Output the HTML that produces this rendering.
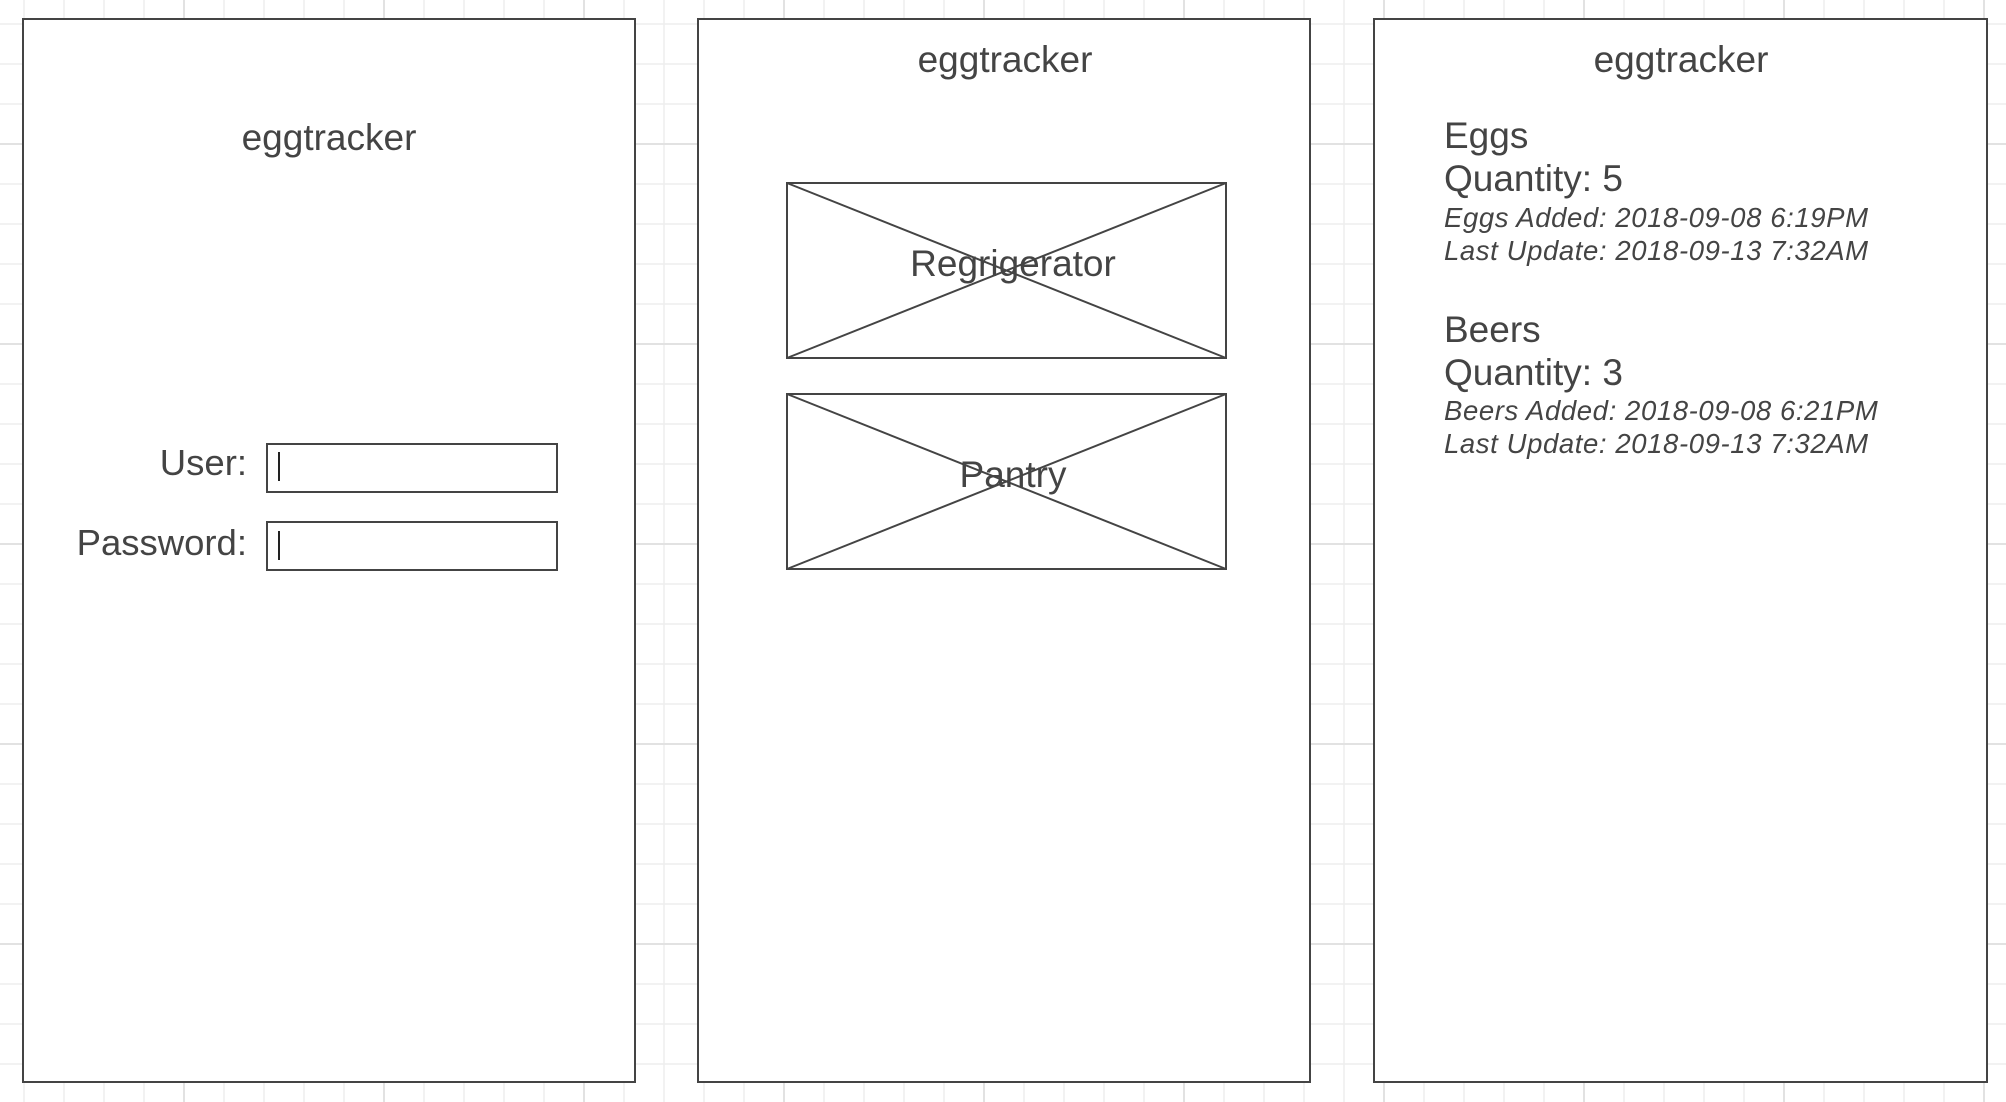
<!DOCTYPE html>
<html><head><meta charset="utf-8"><style>
html,body{margin:0;padding:0;background:#fff;}
svg{display:block;}
text{font-family:"Liberation Sans",sans-serif;fill:#444;}
</style></head><body>
<svg width="2006" height="1102" viewBox="0 0 2006 1102">
<g id="grid"></g>
<g>
<rect x="23" y="19" width="612" height="1063" fill="#fff" stroke="#444" stroke-width="2"/>
<text x="329" y="150" font-size="37" text-anchor="middle">eggtracker</text>
<text x="247" y="475" font-size="36.5" text-anchor="end">User:</text>
<rect x="267" y="444" width="290" height="48" fill="#fff" stroke="#444" stroke-width="2"/>
<line x1="279" y1="452" x2="279" y2="481" stroke="#222" stroke-width="2"/>
<text x="247" y="555" font-size="36.5" text-anchor="end">Password:</text>
<rect x="267" y="522" width="290" height="48" fill="#fff" stroke="#444" stroke-width="2"/>
<line x1="279" y1="531" x2="279" y2="560" stroke="#222" stroke-width="2"/>
</g>
<g>
<rect x="698" y="19" width="612" height="1063" fill="#fff" stroke="#444" stroke-width="2"/>
<text x="1005" y="72" font-size="37" text-anchor="middle">eggtracker</text>
<g>
<rect x="787" y="183" width="439" height="175" fill="#fff" stroke="#444" stroke-width="2"/>
<line x1="787" y1="183" x2="1226" y2="358" stroke="#444" stroke-width="2"/>
<line x1="787" y1="358" x2="1226" y2="183" stroke="#444" stroke-width="2"/>
<text x="1013" y="276" font-size="37" text-anchor="middle">Regrigerator</text>
</g>
<g>
<rect x="787" y="394" width="439" height="175" fill="#fff" stroke="#444" stroke-width="2"/>
<line x1="787" y1="394" x2="1226" y2="569" stroke="#444" stroke-width="2"/>
<line x1="787" y1="569" x2="1226" y2="394" stroke="#444" stroke-width="2"/>
<text x="1013" y="487" font-size="37" text-anchor="middle">Pantry</text>
</g>
</g>
<g>
<rect x="1374" y="19" width="613" height="1063" fill="#fff" stroke="#444" stroke-width="2"/>
<text x="1681" y="72" font-size="37" text-anchor="middle">eggtracker</text>
<g>
<text x="1444" y="148" font-size="37">Eggs</text>
<text x="1444" y="191" font-size="37">Quantity: 5</text>
<text x="1444" y="227" font-size="27.5" letter-spacing="0.6" font-style="italic">Eggs Added: 2018-09-08 6:19PM</text>
<text x="1444" y="260" font-size="27.5" letter-spacing="0.6" font-style="italic">Last Update: 2018-09-13 7:32AM</text>
</g>
<g>
<text x="1444" y="342" font-size="37">Beers</text>
<text x="1444" y="385" font-size="37">Quantity: 3</text>
<text x="1444" y="420" font-size="27.5" letter-spacing="0.6" font-style="italic">Beers Added: 2018-09-08 6:21PM</text>
<text x="1444" y="453" font-size="27.5" letter-spacing="0.6" font-style="italic">Last Update: 2018-09-13 7:32AM</text>
</g>
</g>
</svg>
<script>
var ns="http://www.w3.org/2000/svg";
var g=document.getElementById('grid');
for(var x=24;x<2006;x+=40){
  var l=document.createElementNS(ns,'line');
  l.setAttribute('x1',x);l.setAttribute('x2',x);l.setAttribute('y1',0);l.setAttribute('y2',1102);
  var major=((x-184)%200===0);
  l.setAttribute('stroke',major?'#e2e2e2':'#eeeeee');l.setAttribute('stroke-width',major?2:1.5);
  
  
  g.appendChild(l);
}
for(var y=24;y<1102;y+=40){
  var l=document.createElementNS(ns,'line');
  l.setAttribute('y1',y);l.setAttribute('y2',y);l.setAttribute('x1',0);l.setAttribute('x2',2006);
  var major=((y-144)%200===0);
  l.setAttribute('stroke',major?'#e2e2e2':'#eeeeee');l.setAttribute('stroke-width',major?2:1.5);
  
  
  g.appendChild(l);
}
</script>
</body></html>
